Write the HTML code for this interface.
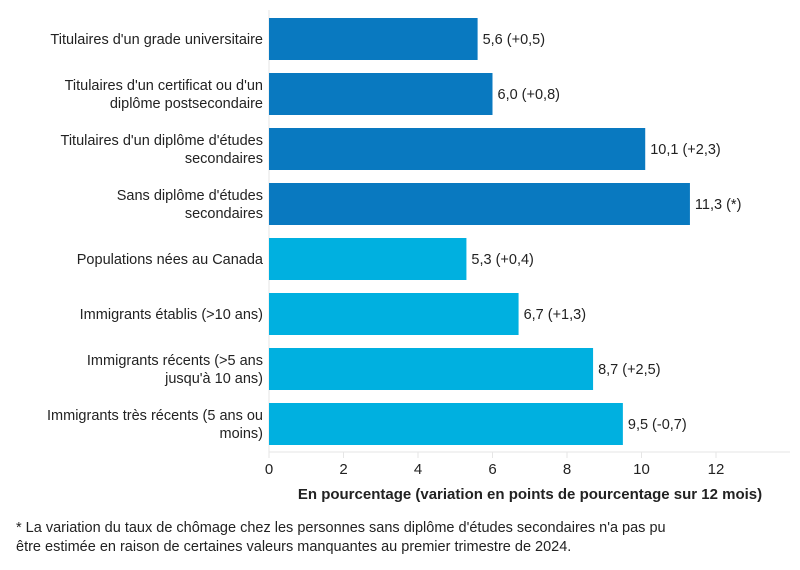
<!DOCTYPE html>
<html><head><meta charset="utf-8"><style>
body{margin:0;background:#fff;font-family:"Liberation Sans",sans-serif;}
#wrap{position:relative;width:800px;height:570px;overflow:hidden;}
.note{position:absolute;left:16px;top:519px;font-size:14.5px;line-height:19px;color:#222;}
</style></head><body><div id="wrap">
<svg id="svg" width="800" height="570"></svg>
<div class="note">* La variation du taux de chômage chez les personnes sans diplôme d'études secondaires n'a pas pu<br>être estimée en raison de certaines valeurs manquantes au premier trimestre de 2024.</div>
</div>
<script>
const categories=[["Titulaires d'un grade universitaire"],["Titulaires d'un certificat ou d'un","diplôme postsecondaire"],["Titulaires d'un diplôme d'études","secondaires"],["Sans diplôme d'études","secondaires"],["Populations nées au Canada"],["Immigrants établis (>10 ans)"],["Immigrants récents (>5 ans","jusqu'à 10 ans)"],["Immigrants très récents (5 ans ou","moins)"]];
const values=[5.6,6.0,10.1,11.3,5.3,6.7,8.7,9.5];
const valueLabels=["5,6 (+0,5)","6,0 (+0,8)","10,1 (+2,3)","11,3 (*)","5,3 (+0,4)","6,7 (+1,3)","8,7 (+2,5)","9,5 (-0,7)"];
const groups=[0,0,0,0,1,1,1,1];
const ticks=[0,2,4,6,8,10,12];
const NS="http://www.w3.org/2000/svg",svg=document.getElementById('svg');
const x=v=>269+v*37.25, yTop=i=>18+i*55, bh=42;
const colors=["#0979c0","#00b0e0"];
function mk(t,a,txt){const e=document.createElementNS(NS,t);for(const k in a)e.setAttribute(k,a[k]);if(txt!=null)e.textContent=txt;svg.appendChild(e);return e;}
let e=mk('line',{x1:269,x2:269,y1:10,y2:452,stroke:'#e6e6e6'});

e=mk('line',{x1:269,x2:790,y1:452,y2:452,stroke:'#e6e6e6'});

ticks.forEach(t=>{
 let l=mk('line',{x1:x(t),x2:x(t),y1:452,y2:458,stroke:'#e6e6e6'});
 
 let s=mk('text',{x:x(t),y:474,'text-anchor':'middle','font-size':15,fill:'#222'},String(t));
 
});
values.forEach((v,i)=>{
 let r=mk('rect',{x:x(0),y:yTop(i),width:x(v)-x(0),height:bh,fill:colors[groups[i]]});
 
 let t=mk('text',{x:x(v)+5,y:yTop(i)+bh/2+5,'font-size':14.5,fill:'#222'},valueLabels[i]);
 
 const lines=categories[i],n=lines.length;
 lines.forEach((ln,j)=>{
  let c=mk('text',{x:263,y:yTop(i)+bh/2+5+(j-(n-1)/2)*18,'text-anchor':'end','font-size':14.5,fill:'#222'},ln);
  
 });
});
e=mk('text',{x:530,y:499,'text-anchor':'middle','font-size':15,'font-weight':'bold',fill:'#222'},"En pourcentage (variation en points de pourcentage sur 12 mois)");

</script></body></html>
